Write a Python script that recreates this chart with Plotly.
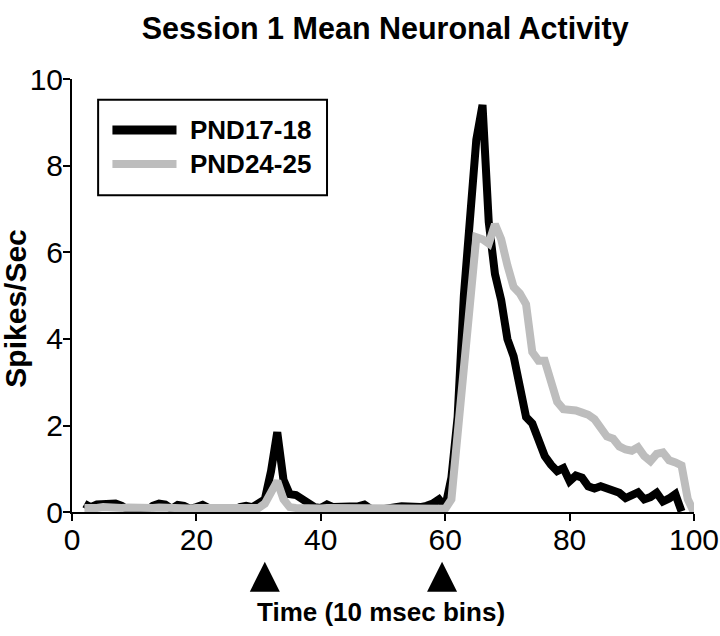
import plotly.graph_objects as go

# bins (10 msec each)
bins_young = list(range(2, 99))
pnd17_18 = [
    0.20, 0.12, 0.18, 0.20, 0.20, 0.20, 0.15, 0.05, 0.02, 0.05,   # 2-11
    0.03, 0.15, 0.20, 0.18, 0.08, 0.17, 0.15, 0.08, 0.12, 0.17,   # 12-21
    0.10, 0.05, 0.03, 0.05, 0.04, 0.12, 0.15, 0.12, 0.20, 0.30,   # 22-31
    0.95, 1.85, 0.75, 0.42, 0.40, 0.32, 0.22, 0.12, 0.10, 0.18,   # 32-41
    0.12, 0.12, 0.13, 0.12, 0.14, 0.18, 0.08, 0.05, 0.06, 0.08,   # 42-51
    0.12, 0.14, 0.12, 0.10, 0.12, 0.15, 0.20, 0.30, 0.12, 0.80,   # 52-61
    2.20, 5.00, 7.00, 8.60, 9.40, 6.70, 5.50, 4.90, 4.00, 3.60,   # 62-71
    2.90, 2.20, 2.05, 1.65, 1.30, 1.10, 0.95, 1.02, 0.72, 0.85,   # 72-81
    0.80, 0.60, 0.55, 0.60, 0.55, 0.50, 0.45, 0.33, 0.42, 0.46,   # 82-91
    0.30, 0.35, 0.45, 0.25, 0.32, 0.42, 0.02,                     # 92-98
]

bins_old = list(range(2, 101))
pnd24_25 = [
    0.10, 0.08, 0.10, 0.12, 0.10, 0.09, 0.10, 0.11, 0.10, 0.09,   # 2-11
    0.10, 0.10, 0.11, 0.10, 0.09, 0.10, 0.10, 0.09, 0.10, 0.10,   # 12-21
    0.11, 0.10, 0.09, 0.08, 0.09, 0.10, 0.10, 0.10, 0.10, 0.20,   # 22-31
    0.50, 0.72, 0.30, 0.12, 0.10, 0.09, 0.10, 0.10, 0.09, 0.10,   # 32-41
    0.10, 0.09, 0.10, 0.10, 0.09, 0.10, 0.10, 0.09, 0.09, 0.10,   # 42-51
    0.10, 0.09, 0.10, 0.10, 0.09, 0.10, 0.10, 0.10, 0.08, 0.30,   # 52-61
    1.70, 3.50, 4.90, 6.35, 6.30, 6.20, 6.65, 6.30, 5.70, 5.20,   # 62-71
    5.05, 4.80, 3.70, 3.50, 3.50, 3.00, 2.55, 2.38, 2.38, 2.35,   # 72-81
    2.30, 2.25, 2.15, 1.95, 1.75, 1.70, 1.52, 1.45, 1.42, 1.50,   # 82-91
    1.30, 1.18, 1.35, 1.38, 1.20, 1.15, 1.08, 0.30, 0.00,         # 92-100
]

# stimulus markers (CS / US onsets), drawn in a small strip under the axis
stim_bins = [31, 59.5]
stim_level = [0.46, 0.46]

FONT = "Liberation Sans, Arial, sans-serif"
GREY = "#bdbdbd"

fig = go.Figure()
fig.add_trace(go.Scatter(x=bins_young, y=pnd17_18, mode="lines", name="PND17-18",
                         line=dict(color="black", width=8), showlegend=False))
fig.add_trace(go.Scatter(x=bins_old, y=pnd24_25, mode="lines", name="PND24-25",
                         line=dict(color=GREY, width=8), showlegend=False))
fig.add_trace(go.Scatter(x=stim_bins, y=stim_level, mode="markers", xaxis="x2", yaxis="y2",
                         marker=dict(symbol="arrow-up", size=30, color="black",
                                     line=dict(width=0)),
                         showlegend=False, hoverinfo="skip"))

# hand-drawn legend box like the original figure
fig.add_shape(type="rect", xref="paper", yref="paper", x0=0.042, x1=0.41, y0=0.777, y1=0.960,
              line=dict(color="black", width=2), fillcolor="white", layer="above")
fig.add_shape(type="line", xref="paper", yref="paper", x0=0.065, x1=0.168, y0=0.902, y1=0.902,
              line=dict(color="black", width=9), layer="above")
fig.add_shape(type="line", xref="paper", yref="paper", x0=0.065, x1=0.168, y0=0.837, y1=0.837,
              line=dict(color=GREY, width=8), layer="above")
for label, ypos in [("PND17-18", 0.902), ("PND24-25", 0.837)]:
    fig.add_annotation(xref="paper", yref="paper", x=0.187, y=ypos, text=f"<b>{label}</b>",
                       showarrow=False, xanchor="left", yanchor="middle",
                       font=dict(family=FONT, size=26, color="black"))

# axis titles
fig.add_annotation(xref="paper", yref="paper", x=0.497, y=-0.023, text="<b>Time (10 msec bins)</b>",
                   showarrow=False, xanchor="center", yanchor="middle",
                   font=dict(family=FONT, size=26, color="black"))
fig.add_annotation(xref="paper", yref="paper", x=-0.091, y=0.56, text="<b>Spikes/Sec</b>",
                   textangle=-90, showarrow=False, xanchor="center", yanchor="middle",
                   font=dict(family=FONT, size=30, color="black"))

fig.update_layout(
    width=720, height=636,
    margin=dict(l=72, r=26, t=79, b=36),
    plot_bgcolor="white", paper_bgcolor="white",
    font=dict(family=FONT, size=30, color="black"),
    title=dict(text="<b>Session 1 Mean Neuronal Activity</b>", x=0.535, xanchor="center",
               y=0.956, yanchor="middle", font=dict(family=FONT, size=30.5)),
    xaxis=dict(range=[0, 100], tickvals=[0, 20, 40, 60, 80, 100], showgrid=False, zeroline=False,
               showline=True, linecolor="black", linewidth=2, ticks="outside", ticklen=7,
               tickwidth=1.5, tickcolor="black", anchor="y", automargin=False,
               ticklabelstandoff=-7),
    yaxis=dict(range=[0, 10], tickvals=[0, 2, 4, 6, 8, 10], showgrid=False, zeroline=False,
               showline=True, linecolor="black", linewidth=2, ticks="outside", ticklen=7,
               tickwidth=1.5, tickcolor="black", domain=[0.1683, 1], automargin=False,
               ticklabelstandoff=-6),
    xaxis2=dict(range=[0, 100], matches="x", anchor="y2", visible=False),
    yaxis2=dict(range=[0, 1], domain=[0, 0.16], visible=False),
)

# drop the page's default body margin so the figure sits at the window's corner
fig.write_html("out.html", config={"displayModeBar": False},
               post_script="document.body.style.margin='0';")
